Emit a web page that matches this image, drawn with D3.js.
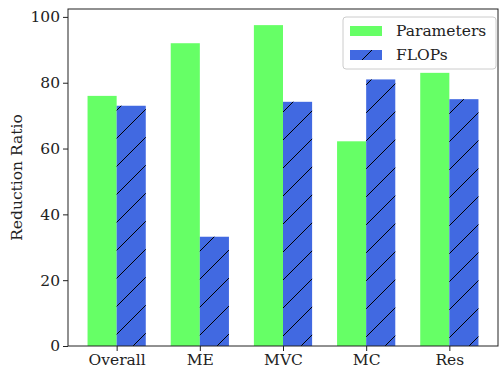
<!DOCTYPE html>
<html>
<head>
<meta charset="utf-8">
<script src="https://cdn.jsdelivr.net/npm/d3@7"></script>
<style>
  body { margin: 0; background: #fff; }
</style>
</head>
<body>
<svg id="chart" width="501" height="372"></svg>
<script>
var categories = ["Overall", "ME", "MVC", "MC", "Res"];
var params = [76, 92, 97.5, 62.2, 83];
var flops = [73, 33.2, 74.2, 81, 75];
var y_ticks = [0, 20, 40, 60, 80, 100];

var margin = {left: 68, right: 3, top: 9, bottom: 26};
var width = 501, height = 372;
var font = "DejaVu Serif";
var font_size = 15.5;
var hatch_gap = 28;

var svg = d3.select("#chart");
var defs = svg.append("defs");

var x = d3.scaleLinear()
  .domain([-0.585, 4.585])
  .range([margin.left, width - margin.right]);
var y = d3.scaleLinear()
  .domain([0, 102.4])
  .range([height - margin.bottom, margin.top]);

var bw = x(0.35) - x(0);

// hatch lines x + y = 3 (mod gap), clipped to a box
function hatch(g, clip_id, x0, y0, w, h) {
  defs.append("clipPath").attr("id", clip_id)
    .append("rect").attr("x", x0).attr("y", y0).attr("width", w).attr("height", h);
  let lo = Math.floor((x0 + y0 - 3) / hatch_gap) - 1;
  let hi = Math.ceil((x0 + w + y0 + h - 3) / hatch_gap) + 1;
  let ks = d3.range(lo, hi + 1);
  g.append("g").attr("clip-path", "url(#" + clip_id + ")")
    .selectAll("line")
    .data(ks)
    .enter()
    .append("line")
      .attr("x1", function(k) {return x0 - 2;})
      .attr("y1", function(k) {return k * hatch_gap + 3 - (x0 - 2);})
      .attr("x2", function(k) {return x0 + w + 2;})
      .attr("y2", function(k) {return k * hatch_gap + 3 - (x0 + w + 2);})
      .attr("stroke", "#000")
      .attr("stroke-width", 1);
}

// bars
svg.selectAll(".param-bar")
  .data(params)
  .enter()
  .append("rect")
    .attr("class", "param-bar")
    .attr("x", function(d, i) {return x(i - 0.35);})
    .attr("y", function(d) {return y(d);})
    .attr("width", bw)
    .attr("height", function(d) {return y(0) - y(d);})
    .attr("fill", "#66ff66");

var flop_g = svg.append("g");
flops.forEach(function(d, i) {
  flop_g.append("rect")
    .attr("x", x(i))
    .attr("y", y(d))
    .attr("width", bw)
    .attr("height", y(0) - y(d))
    .attr("fill", "#4169e1");
  hatch(flop_g, "clip-bar-" + i, x(i), y(d), bw, y(0) - y(d));
});

// axes
var x_axis = d3.axisBottom(x)
  .tickValues(d3.range(categories.length))
  .tickFormat(function(d) {return categories[d];})
  .tickSize(5)
  .tickPadding(3);
var y_axis = d3.axisLeft(y)
  .tickValues(y_ticks)
  .tickSize(5)
  .tickPadding(3);

var gx = svg.append("g")
  .attr("transform", "translate(0," + y(0) + ")")
  .call(x_axis);
var gy = svg.append("g")
  .attr("transform", "translate(" + margin.left + ",0)")
  .call(y_axis);

[gx, gy].forEach(function(g) {
  g.attr("font-family", font).attr("font-size", font_size);
  g.select(".domain").remove();
  g.selectAll("text").attr("fill", "#222");
  g.selectAll("line").attr("stroke", "#222");
});

// frame
svg.append("rect")
  .attr("x", margin.left)
  .attr("y", margin.top)
  .attr("width", width - margin.right - margin.left)
  .attr("height", y(0) - margin.top)
  .attr("fill", "none")
  .attr("stroke", "#222")
  .attr("stroke-width", 1);

// y label
svg.append("text")
  .attr("transform", "translate(17," + ((margin.top + y(0)) / 2) + ") rotate(-90)")
  .attr("text-anchor", "middle")
  .attr("dominant-baseline", "central")
  .attr("font-family", font)
  .attr("font-size", font_size)
  .attr("fill", "#222")
  .text("Reduction Ratio");

// legend
var legend_items = [{label: "Parameters", fill: "#66ff66"}, {label: "FLOPs", fill: "#4169e1"}];
var lg = svg.append("g").attr("transform", "translate(343,17)");
lg.append("rect")
  .attr("width", 153)
  .attr("height", 52)
  .attr("rx", 3)
  .attr("fill", "#fff")
  .attr("fill-opacity", 0.8)
  .attr("stroke", "#ccc");
var items = lg.selectAll(".leg-item")
  .data(legend_items)
  .enter()
  .append("g")
    .attr("class", "leg-item")
    .attr("transform", function(d, i) {return "translate(7," + (9 + i * 24) + ")";});
items.append("rect")
  .attr("width", 32)
  .attr("height", 10)
  .attr("fill", function(d) {return d.fill;});
// single hatch stroke in the FLOPs legend patch
lg.append("line")
  .attr("x1", 7 + 12).attr("y1", 33 + 10)
  .attr("x2", 7 + 22).attr("y2", 33)
  .attr("stroke", "#000")
  .attr("stroke-width", 1);
items.append("text")
  .attr("x", 46)
  .attr("y", 5)
  .attr("dominant-baseline", "central")
  .attr("font-family", font)
  .attr("font-size", font_size)
  .attr("fill", "#222")
  .text(function(d) {return d.label;});
</script>
</body>
</html>
